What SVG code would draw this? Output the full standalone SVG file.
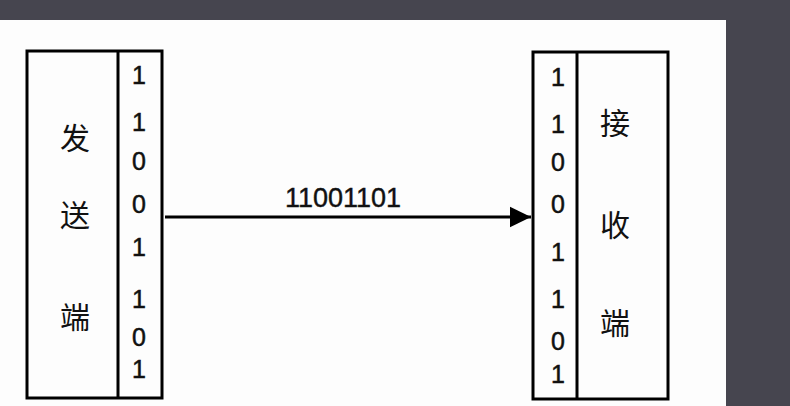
<svg xmlns="http://www.w3.org/2000/svg" width="790" height="406" viewBox="0 0 790 406">
<defs>
<style>
.box{fill:none;stroke:#000;stroke-width:3}
.bit{font-family:"Liberation Sans",Arial,sans-serif;font-size:25px;fill:#111;stroke:#111;stroke-width:0.5;text-anchor:middle}
.cjk{font-family:"Noto Sans CJK SC","Liberation Sans",sans-serif;font-size:30px;fill:#111;text-anchor:middle}
.lbl{font-family:"Liberation Sans",Arial,sans-serif;font-size:27px;fill:#111;stroke:#111;stroke-width:0.4;text-anchor:middle}
</style>
<marker id="arr" markerWidth="8" markerHeight="8" refX="7" refY="4" orient="auto" markerUnits="strokeWidth">
<path d="M0,0.6 L7,4 L0,7.4 z" fill="#000"/>
</marker>
</defs>
<rect x="0" y="0" width="790" height="406" fill="#46454f"/>
<rect x="0" y="20" width="726" height="386" fill="#fdfdfd"/>
<g id="sender">
<rect class="box" x="27" y="51" width="135" height="347"/>
<line class="box" x1="118" y1="51" x2="118" y2="398"/>
<text class="cjk" x="75" y="149">发</text>
<text class="cjk" x="75" y="226">送</text>
<text class="cjk" x="75" y="328">端</text>
<g class="bits">
<text class="bit" x="139" y="84">1</text>
<text class="bit" x="139" y="131">1</text>
<text class="bit" x="139" y="170">0</text>
<text class="bit" x="139" y="213">0</text>
<text class="bit" x="139" y="256">1</text>
<text class="bit" x="139" y="308">1</text>
<text class="bit" x="139" y="346">0</text>
<text class="bit" x="139" y="378">1</text>
</g>
</g>
<g id="receiver">
<rect class="box" x="533" y="52" width="135" height="347"/>
<line class="box" x1="577" y1="52" x2="577" y2="399"/>
<text class="cjk" x="615" y="134">接</text>
<text class="cjk" x="615" y="236">收</text>
<text class="cjk" x="615" y="334">端</text>
<g class="bits">
<text class="bit" x="558" y="86">1</text>
<text class="bit" x="558" y="133">1</text>
<text class="bit" x="558" y="171">0</text>
<text class="bit" x="558" y="213">0</text>
<text class="bit" x="558" y="261">1</text>
<text class="bit" x="558" y="308">1</text>
<text class="bit" x="558" y="350">0</text>
<text class="bit" x="558" y="383">1</text>
</g>
</g>
<g id="connectors">
<line x1="165" y1="217" x2="531" y2="217" stroke="#000" stroke-width="3" marker-end="url(#arr)"/>
<text class="lbl" x="343" y="207">11001101</text>
</g>
</svg>
